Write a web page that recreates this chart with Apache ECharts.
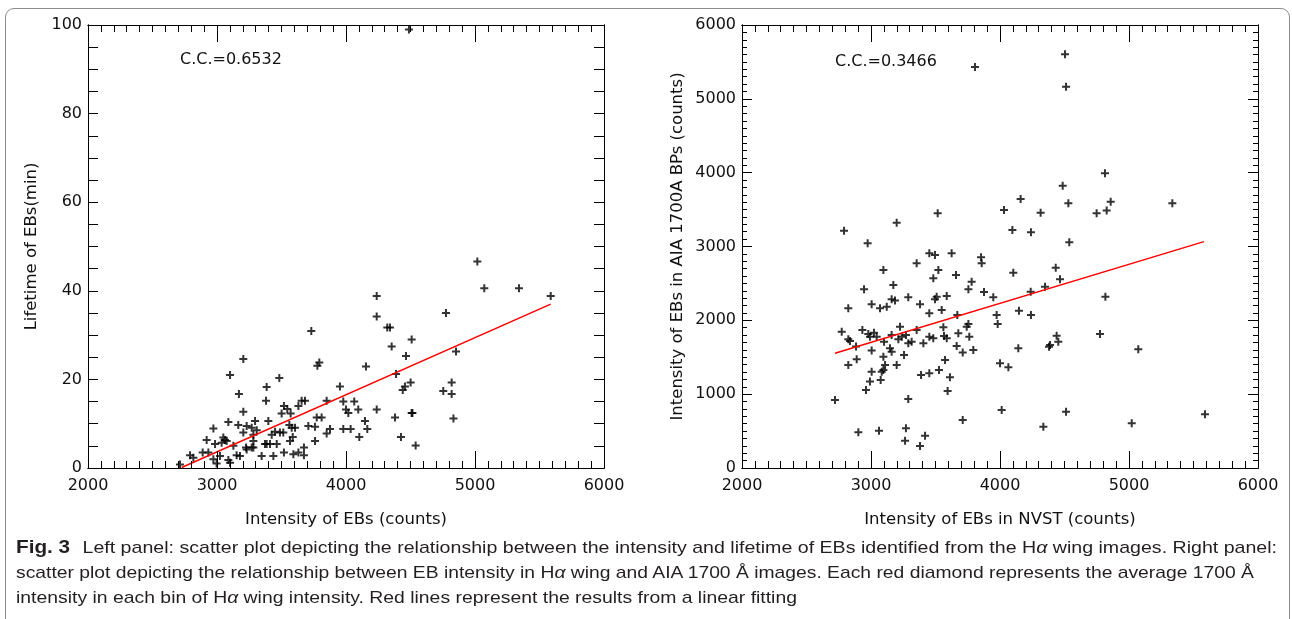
<!DOCTYPE html>
<html>
<head>
<meta charset="utf-8">
<script src="https://cdn.jsdelivr.net/npm/echarts@6/dist/echarts.min.js"></script>
<style>
  body { margin:0; }
  #frame { position:absolute; left:5px; top:8px; width:1285px; height:700px; border:1px solid #8c8c8c; border-radius:9px; box-sizing:border-box; }
  #chart { position:absolute; left:0; top:0; width:1292px; height:619px; }
  #ticks { position:absolute; left:0; top:0; width:1292px; height:619px; pointer-events:none; }
  #cap { position:absolute; left:16px; top:535px; font-family:'Liberation Sans', sans-serif; font-size:17px; line-height:25px; color:#231f20; white-space:nowrap; }
  #cap div { transform-origin:0 50%; display:block; width:max-content; }
  #cap b { font-weight:bold; font-size:18px; margin-right:6px; }
</style>
</head>
<body>
<div id="frame"></div>
<div id="chart"></div>
<div id="ticks"></div>
<div id="cap">
  <div data-w="1261"><b>Fig. 3</b> Left panel: scatter plot depicting the relationship between the intensity and lifetime of EBs identified from the H<i>α</i> wing images. Right panel:</div>
  <div data-w="1238">scatter plot depicting the relationship between EB intensity in H<i>α</i> wing and AIA 1700 Å images. Each red diamond represents the average 1700 Å</div>
  <div data-w="781">intensity in each bin of H<i>α</i> wing intensity. Red lines represent the results from a linear fitting</div>
</div>
<script>
// ---------- data ----------
const lifetimeIntensity = [
  2713,2791,2817,2889,2933,2972,2997,3023,3088,3101,3152,3178,3230,3282,3346,3385,3437,3519,3592,3631,
  3674,3674,2985,3036,3075,3127,3225,3269,3282,3372,3411,3463,2920,3049,3062,3282,3424,3566,3587,3760,
  3850,2972,3204,3269,3308,3450,3488,3514,3579,3605,3088,3165,3230,3295,3398,3561,3708,3760,3773,3811,
  3204,3501,3545,3571,3380,3519,3631,3656,3682,3850,3170,3385,3101,3483,3204,3778,3793,3731,
  5018,5072,5341,5587,4238,4238,4320,4341,4775,4509,4354,4465,4853,4155,4388,3953,4440,4457,4501,4754,
  4819,4819,3979,4064,4000,4018,4095,4238,4147,4380,4509,4515,4833,3876,3979,4036,4165,4103,4426,4540,
  4488
];
const lifetimeMinutes = [
  0.8,2.9,2.3,3.5,3.5,2.0,1.0,2.7,1.8,1.2,2.9,2.7,4.2,4.6,2.7,5.4,2.7,3.5,3.1,3.5,
  2.9,4.6,5.4,5.7,6.1,5.0,4.6,4.6,6.1,5.4,5.4,5.4,6.3,6.9,6.3,7.5,7.5,6.1,7.0,6.1,
  7.8,8.9,8.0,9.1,8.5,8.2,8.0,8.0,9.1,9.1,10.4,9.7,9.5,10.6,10.6,9.7,9.5,9.3,11.4,11.4,
  12.7,12.3,13.3,12.3,15.2,14.0,14.0,15.2,15.2,15.2,16.7,18.3,21.0,20.3,24.6,23.1,23.8,30.9,
  46.6,40.6,40.6,38.8,38.8,34.2,31.7,31.7,35.0,29.0,27.4,25.3,26.3,22.9,21.2,18.4,17.6,18.4,19.3,17.4,
  19.3,16.7,15.0,15.0,13.2,12.4,13.2,13.2,10.6,11.4,12.4,12.4,11.2,8.8,8.8,8.8,8.8,7.0,7.0,5.1,
  99
];
const leftFitX = [2726, 5587];
const leftFitY = [0.1, 37.0];

const nvstIntensity = [
  2721,2791,3199,3517,2974,3096,3452,3496,3625,3354,3483,3522,3659,3853,3858,3780,3755,3876,3948,2946,
  3005,3070,3122,3173,3160,3186,3289,3380,3452,3496,3509,3548,3587,3669,2824,3974,3982,4147,2773,2824,
  2837,2884,2933,2979,3023,2992,3005,3044,3101,3160,3225,3212,3238,3271,3289,3315,3354,3406,3452,3483,
  3561,3566,3587,3677,3742,3755,3762,3664,3711,3793,3147,3160,3096,3256,2889,2824,3109,3199,3083,3096,
  3075,3005,2992,2961,3388,3452,3527,3574,3612,3594,3289,3711,2902,3062,3271,3264,3419,3380,4013,4000,
  4065,4031,4096,4103,4142,3806,
  4504,4512,4814,4486,4160,4315,4530,4749,4827,4858,5336,4240,4537,4432,4465,4349,4238,4240,4817,4775,
  4439,4380,4388,4452,5072,4512,4336,5021,5589
];
const aiaIntensity = [
  921,3215,3323,3450,3043,2682,2908,2885,2908,2772,2569,2682,2614,2854,2772,2524,2420,2384,2312,2420,
  2217,2163,2185,2479,2285,2267,2312,2217,2095,2285,2321,2140,2330,2072,2163,2072,1950,2131,1847,1743,
  1720,1644,1869,1815,1833,1779,1590,1779,1711,1802,1914,1743,1779,1802,1689,1711,1869,1689,1779,1757,
  1905,1788,1757,1824,1914,1950,1779,1653,1563,1598,1621,1576,1508,1531,1472,1395,1395,1395,1305,1328,
  1192,1305,1170,1057,1260,1283,1328,1463,1228,1043,935,650,483,506,537,370,438,298,786,1418,
  1364,3495,3224,2646,1621,5430,
  5603,5165,3991,3824,3644,3458,3585,3449,3486,3607,3585,3192,3057,2713,2555,2456,2388,2072,2321,1815,
  1792,1643,1666,1711,1607,763,560,605,727
];
const rightFitX = [2721, 5581];
const rightFitY = [1553, 3066];

const ccLeft = 'C.C.=0.6532';
const ccRight = 'C.C.=0.3466';

// ---------- build ----------
const FONT = 'DejaVu Sans';
const plusPath = 'path://M3,0h2v3h3v2h-3v3h-2v-3h-3v-2h3z';
const zip = (xs, ys) => xs.map((x, i) => [x, ys[i]]);
const GRIDS = [
  { left: 88, top: 25, width: 516, height: 443 },
  { left: 742, top: 25, width: 516, height: 443 }
];

function xAx(grid, pos, name, withText) {
  return {
    gridIndex: grid, type: 'value', position: pos, min: 2000, max: 6000, interval: 1000,
    axisLine: { show: true, onZero: false, lineStyle: { color: '#000', width: 1 } },
    axisTick: { show: true, inside: true, length: 17 },
    minorTick: { show: true, splitNumber: 10, length: 7 },
    splitLine: { show: false },
    axisLabel: { show: withText && pos === 'bottom', margin: 10, color: '#111', fontFamily: FONT, fontSize: 16, formatter: v => String(v) },
    name: withText && pos === 'bottom' ? name : '', nameLocation: 'middle', nameGap: 43,
    nameTextStyle: { color: '#111', fontFamily: FONT, fontSize: 16.5 }
  };
}
function yAx(grid, pos, max, interval, minorSplit, minorLen, name, gap, withText) {
  return {
    gridIndex: grid, type: 'value', position: pos, min: 0, max, interval,
    axisLine: { show: true, onZero: false, lineStyle: { color: '#000', width: 1 } },
    axisTick: { show: true, inside: true, length: 10 },
    minorTick: { show: true, splitNumber: minorSplit, length: minorLen },
    splitLine: { show: false },
    axisLabel: { show: withText && pos === 'left', margin: 6, color: '#111', fontFamily: FONT, fontSize: 16, formatter: v => String(v) },
    name: withText && pos === 'left' ? name : '', nameLocation: 'middle', nameGap: gap, nameRotate: 90,
    nameTextStyle: { color: '#111', fontFamily: FONT, fontSize: 16.5 }
  };
}
function axes(withText) {
  return {
    xAxis: [
      xAx(0, 'bottom', 'Intensity of EBs (counts)', withText),
      xAx(0, 'top', '', withText),
      xAx(1, 'bottom', 'Intensity of EBs in NVST (counts)', withText),
      xAx(1, 'top', '', withText)
    ],
    yAxis: [
      yAx(0, 'left', 100, 20, 4, 10, 'Lifetime of EBs(min)', 48, withText),
      yAx(0, 'right', 100, 20, 4, 10, '', 30, withText),
      yAx(1, 'left', 6000, 1000, 10, 5, 'Intensity of EBs in AIA 1700A BPs (counts)', 56, withText),
      yAx(1, 'right', 6000, 1000, 10, 5, '', 30, withText)
    ]
  };
}

// main chart: data, labels, names
const chart = echarts.init(document.getElementById('chart'), null, { renderer: 'canvas' });
chart.setOption(Object.assign({
  animation: false,
  grid: GRIDS,
  series: [
    { type: 'scatter', xAxisIndex: 0, yAxisIndex: 0, data: zip(lifetimeIntensity, lifetimeMinutes),
      symbol: plusPath, symbolSize: 8, itemStyle: { color: '#000' }, silent: true },
    { type: 'line', xAxisIndex: 0, yAxisIndex: 0, data: zip(leftFitX, leftFitY), showSymbol: false,
      lineStyle: { color: '#ff0000', width: 1.5 }, silent: true },
    { type: 'scatter', xAxisIndex: 2, yAxisIndex: 2, data: zip(nvstIntensity, aiaIntensity),
      symbol: plusPath, symbolSize: 8, itemStyle: { color: '#000' }, silent: true },
    { type: 'line', xAxisIndex: 2, yAxisIndex: 2, data: zip(rightFitX, rightFitY), showSymbol: false,
      lineStyle: { color: '#ff0000', width: 1.5 }, silent: true }
  ],
  graphic: [
    { type: 'text', left: 180, top: 52, style: { text: ccLeft, fill: '#111', font: '16px "DejaVu Sans"' } },
    { type: 'text', left: 835, top: 54, style: { text: ccRight, fill: '#111', font: '16px "DejaVu Sans"' } }
  ]
}, axes(true)));

// overlay chart: same grids and axes, frame lines and tick marks only
const tickChart = echarts.init(document.getElementById('ticks'), null, { renderer: 'canvas' });
tickChart.setOption(Object.assign({
  animation: false,
  grid: GRIDS,
  series: [
    { type: 'scatter', xAxisIndex: 0, yAxisIndex: 0, data: [], silent: true },
    { type: 'scatter', xAxisIndex: 2, yAxisIndex: 2, data: [], silent: true }
  ]
}, axes(false)));

document.querySelectorAll('#cap div').forEach(d => {
  const w = d.getBoundingClientRect().width;
  d.style.transform = 'scaleX(' + (+d.dataset.w / w).toFixed(4) + ')';
});
</script>
</body>
</html>
